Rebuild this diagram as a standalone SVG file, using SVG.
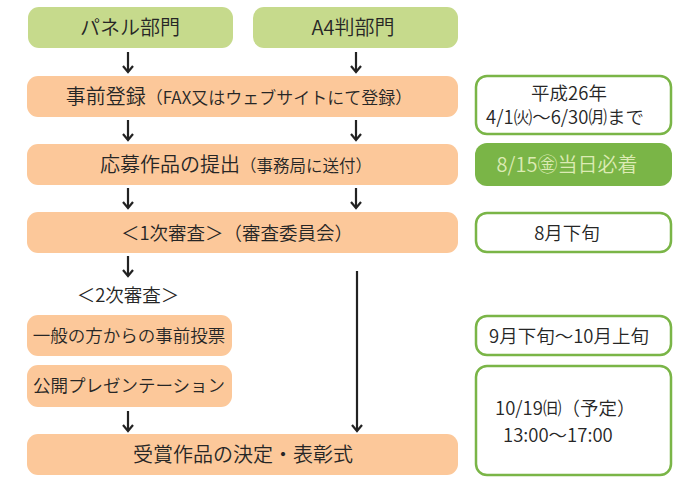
<svg xmlns="http://www.w3.org/2000/svg" width="700" height="494" viewBox="0 0 700 494">
<defs>
<marker id="ah" viewBox="0 0 12 12" refX="9" refY="6" markerWidth="12" markerHeight="12" markerUnits="userSpaceOnUse" orient="auto">
<path d="M3,1 L9,6 L3,11" fill="none" stroke="#222" stroke-width="2.2"/>
</marker>
<style>
.g{fill:#c6da8c}
.o{fill:#fcc89a}
.w{fill:#fff;stroke:#7ab547;stroke-width:2.5}
.f{fill:#7ab547}
text{font-family:"Noto Sans CJK JP","Noto Sans",sans-serif;font-weight:350;fill:#262626;font-size:20px;text-anchor:middle}
.s{font-size:16.5px}
.m{font-size:18.5px}
.n{font-size:17.5px}
.lt{fill:#dcebb4}
.st{text-anchor:start}
.c{fill:none;stroke:#222;stroke-width:2.2;marker-end:url(#ah)}
</style>
</defs>
<rect width="700" height="494" fill="#fff"/>
<g id="panel"><rect class="g" x="28" y="7" width="205" height="41" rx="11"/><text x="130" y="35">パネル部門</text></g>
<g id="a4"><rect class="g" x="253" y="7" width="205" height="41" rx="11"/><text x="353" y="35">A4判部門</text></g>
<g id="register"><rect class="o" x="27" y="76" width="431" height="41" rx="11"/><text x="239" y="104">事前登録<tspan style="font-size:17px">（FAX又はウェブサイトにて登録）</tspan></text></g>
<g id="submit"><rect class="o" x="27" y="144" width="431" height="41" rx="11"/><text x="236" y="172">応募作品の提出<tspan class="s">（事務局に送付）</tspan></text></g>
<g id="first"><rect class="o" x="27" y="212" width="431" height="41" rx="11"/><text x="237" y="240" class="m">＜1次審査＞（審査委員会）</text></g>
<g id="second"><text x="128" y="302" class="m">＜2次審査＞</text></g>
<g id="vote"><rect class="o" x="27" y="315" width="205" height="41" rx="11"/><text x="129" y="342" class="n">一般の方からの事前投票</text></g>
<g id="present"><rect class="o" x="27" y="365" width="205" height="42" rx="11"/><text x="129" y="392" class="n">公開プレゼンテーション</text></g>
<g id="award"><rect class="o" x="27" y="434" width="431" height="41" rx="11"/><text x="243" y="462">受賞作品の決定・表彰式</text></g>
<g id="d1"><rect class="w" x="476" y="76" width="195" height="58" rx="11"/><text x="569" y="100" class="m">平成26年</text><text x="565" y="124" class="m">4/1㈫〜6/30㈪まで</text></g>
<g id="d2"><rect class="f" x="475" y="143" width="197" height="43" rx="12"/><text x="567" y="172" class="lt">8/15㊎当日必着</text></g>
<g id="d3"><rect class="w" x="476" y="213" width="195" height="39" rx="11"/><text x="567" y="240" class="m">8月下旬</text></g>
<g id="d4"><rect class="w" x="476" y="316" width="195" height="39" rx="11"/><text x="569" y="343" class="m">9月下旬〜10月上旬</text></g>
<g id="d5"><rect class="w" x="476" y="366" width="195" height="109" rx="11"/><text x="495" y="415" class="m st">10/19㈰（予定）</text><text x="503" y="442" class="m st">13:00〜17:00</text></g>
<g id="connectors">
<path class="c" d="M128,52 V72"/>
<path class="c" d="M356,52 V72"/>
<path class="c" d="M128,120 V140"/>
<path class="c" d="M356,120 V140"/>
<path class="c" d="M128,188 V208"/>
<path class="c" d="M356,188 V208"/>
<path class="c" d="M128,256 V276"/>
<path class="c" d="M357,271 V431"/>
<path class="c" d="M128,411 V431"/>
</g>
</svg>
